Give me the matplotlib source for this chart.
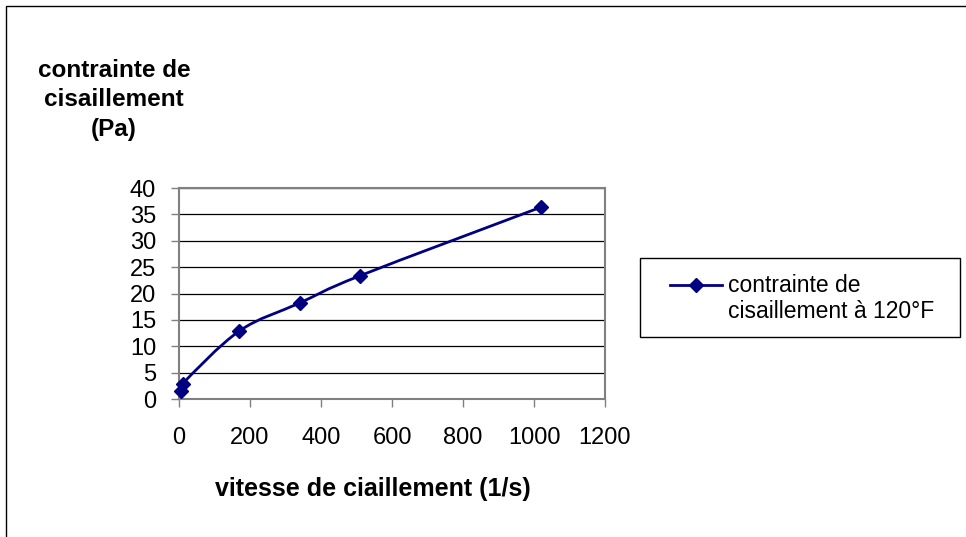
import matplotlib.pyplot as plt
import numpy as np
from matplotlib.path import Path
from matplotlib.patches import PathPatch, Rectangle
from matplotlib.lines import Line2D

plt.rcParams['font.family'] = ['Liberation Sans', 'DejaVu Sans']

# shear rate (1/s) and shear stress (Pa) at 120°F
vitesse = [5.1, 10.2, 170, 340, 511, 1021]
contrainte = [1.5, 2.9, 12.9, 18.2, 23.4, 36.4]
serie = 'contrainte de\ncisaillement à 120°F'

couleur = '#000080'
W, H = 966, 537

fig = plt.figure(figsize=(W / 100, H / 100), dpi=100)
ax = fig.add_axes([179 / W, 1 - 399 / H, 426 / W, 211 / H])

ax.set_xlim(0, 1200)
ax.set_ylim(0, 40)
ax.set_xticks(range(0, 1201, 200))
ax.set_yticks(range(0, 41, 5))


def courbe_lissee(xs, ys, sx, sy):
    # cubic bezier segments through the points, tangents from neighbours
    px = np.array(xs) / sx
    py = np.array(ys) / sy
    pts = np.column_stack([px, py])
    n = len(pts)
    verts = [pts[0]]
    codes = [Path.MOVETO]
    for i in range(n - 1):
        p0 = pts[i - 1] if i > 0 else pts[i]
        p1 = pts[i]
        p2 = pts[i + 1]
        p3 = pts[i + 2] if i + 2 < n else pts[i + 1]
        c1 = p1 + (p2 - p0) / 6
        c2 = p2 - (p3 - p1) / 6
        verts += [c1, c2, p2]
        codes += [Path.CURVE4] * 3
    verts = np.array(verts) * [sx, sy]
    return Path(verts, codes)


ax.add_patch(PathPatch(courbe_lissee(vitesse, contrainte, 1200 / 426, 40 / 211),
                       facecolor='none', edgecolor=couleur, lw=2, zorder=3))
ax.plot(vitesse, contrainte, linestyle='none', marker='D', markersize=7,
        color=couleur, zorder=4, clip_on=False)

ax.grid(axis='y', color='black', linewidth=0.9)
ax.set_axisbelow(True)
for s in ax.spines.values():
    s.set_color('#808080')
    s.set_linewidth(1.5)
ax.tick_params(axis='both', direction='out', color='#808080', width=1, length=5.5,
               labelsize=17)
ax.tick_params(axis='x', pad=15)
ax.tick_params(axis='y', pad=11)

fig.text(373 / W, 1 - 489 / H, 'vitesse de ciaillement (1/s)',
         ha='center', va='center', fontsize=18, fontweight='bold')
fig.text(114 / W, 1 - 100 / H, 'contrainte de\ncisaillement\n(Pa)',
         ha='center', va='center', fontsize=17.5, fontweight='bold',
         linespacing=1.38)

# legend: box, line sample on the first text line, label
fig.add_artist(Rectangle((640 / W, 1 - 337 / H), 320 / W, 79 / H,
                         transform=fig.transFigure, facecolor='white',
                         edgecolor='black', lw=1))
fig.add_artist(Line2D([670 / W, 722 / W], [1 - 285 / H] * 2,
                      transform=fig.transFigure, color=couleur, lw=2))
fig.add_artist(Line2D([696 / W], [1 - 285 / H], transform=fig.transFigure,
                      marker='D', markersize=7, color=couleur))
fig.text(728 / W, 1 - 298.5 / H, serie, ha='left', va='center',
         fontsize=16.5, linespacing=1.2)

# outer chart border
fig.add_artist(Rectangle((6 / W, -0.1), 1.2, 1 - 6 / H + 0.1,
                         transform=fig.transFigure, facecolor='none',
                         edgecolor='black', lw=1))

fig.savefig('out.png', dpi=100)
